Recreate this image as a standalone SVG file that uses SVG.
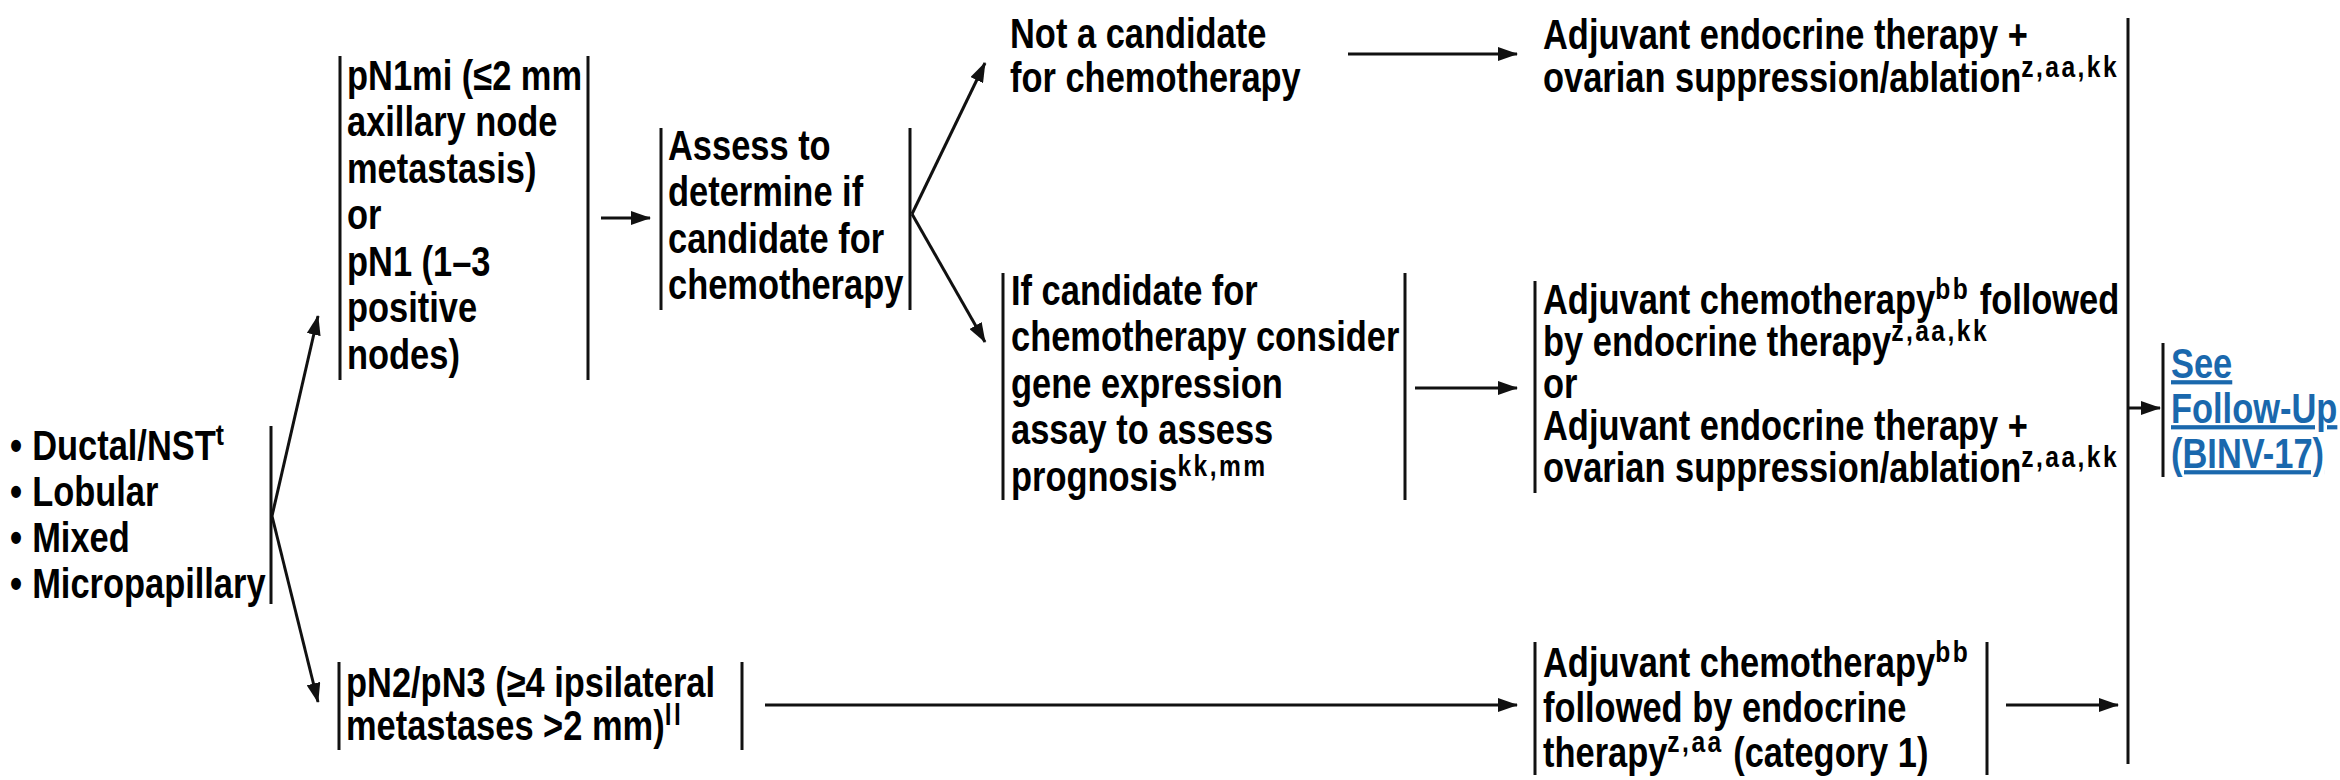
<svg xmlns="http://www.w3.org/2000/svg" width="2340" height="780" viewBox="0 0 2340 780">
  <style>
    text { font-family: "Liberation Sans Narrow", "Arial Narrow", "Liberation Sans", Arial, sans-serif; font-weight: bold; font-size: 42px; fill: #000; }
    .sup { font-size: 30px; letter-spacing: 3px; }
    .link { fill: #1a68ad; text-decoration: underline; }
    .bar { stroke: #111; stroke-width: 3; fill: none; }
    .conn { stroke: #111; stroke-width: 3; fill: none; marker-end: url(#arrow); }
  </style>
  <defs>
    <marker id="arrow" viewBox="0 0 20 14" refX="19" refY="7" markerWidth="20" markerHeight="14" markerUnits="userSpaceOnUse" orient="auto">
      <path d="M0,0 L20,7 L0,14 Z" fill="#111"/>
    </marker>
  </defs>
  <rect width="2340" height="780" fill="#fff"/>

  <!-- histology list; text blocks are condensed horizontally to a narrow face -->
  <g id="histology">
    <g transform="translate(10,0) scale(0.82,1)">
      <text x="0" y="460">•</text><text x="27" y="460">Ductal/NST<tspan class="sup" dy="-15">t</tspan></text>
      <text x="0" y="506">•</text><text x="27" y="506">Lobular</text>
      <text x="0" y="552">•</text><text x="27" y="552">Mixed</text>
      <text x="0" y="598">•</text><text x="27" y="598">Micropapillary</text>
    </g>
    <line class="bar" x1="271" y1="426" x2="271" y2="604"/>
  </g>

  <!-- pN1mi / pN1 -->
  <g id="pn1">
    <line class="bar" x1="340" y1="56" x2="340" y2="380"/>
    <line class="bar" x1="588" y1="56" x2="588" y2="380"/>
    <g transform="translate(347,0) scale(0.82,1)">
      <text x="0" y="90">pN1mi (≤2 mm</text>
      <text x="0" y="136.5">axillary node</text>
      <text x="0" y="183">metastasis)</text>
      <text x="0" y="229.5">or</text>
      <text x="0" y="276">pN1 (1–3</text>
      <text x="0" y="322.5">positive</text>
      <text x="0" y="369">nodes)</text>
    </g>
  </g>

  <!-- chemotherapy candidacy -->
  <g id="assess">
    <line class="bar" x1="661" y1="128" x2="661" y2="310"/>
    <line class="bar" x1="910" y1="128" x2="910" y2="310"/>
    <g transform="translate(668,0) scale(0.82,1)">
      <text x="0" y="160">Assess to</text>
      <text x="0" y="206.5">determine if</text>
      <text x="0" y="253">candidate for</text>
      <text x="0" y="299.5">chemotherapy</text>
    </g>
  </g>

  <g id="not-candidate">
    <g transform="translate(1010,0) scale(0.82,1)">
      <text x="0" y="48">Not a candidate</text>
      <text x="0" y="92">for chemotherapy</text>
    </g>
  </g>

  <g id="candidate">
    <line class="bar" x1="1003" y1="273" x2="1003" y2="500"/>
    <line class="bar" x1="1405" y1="273" x2="1405" y2="500"/>
    <g transform="translate(1011,0) scale(0.82,1)">
      <text x="0" y="305">If candidate for</text>
      <text x="0" y="351.5">chemotherapy consider</text>
      <text x="0" y="398">gene expression</text>
      <text x="0" y="444.5">assay to assess</text>
      <text x="0" y="491">prognosis<tspan class="sup" dy="-15">kk,mm</tspan></text>
    </g>
  </g>

  <!-- treatment options -->
  <g id="endocrine-ovarian">
    <g transform="translate(1543,0) scale(0.82,1)">
      <text x="0" y="49">Adjuvant endocrine therapy +</text>
      <text x="0" y="92">ovarian suppression/ablation<tspan class="sup" dy="-15">z,aa,kk</tspan></text>
    </g>
  </g>

  <g id="chemo-or-endocrine">
    <line class="bar" x1="1535" y1="281" x2="1535" y2="493"/>
    <g transform="translate(1543,0) scale(0.82,1)">
      <text x="0" y="314">Adjuvant chemotherapy<tspan class="sup" dy="-15">bb</tspan><tspan dy="15"> followed</tspan></text>
      <text x="0" y="356">by endocrine therapy<tspan class="sup" dy="-15">z,aa,kk</tspan></text>
      <text x="0" y="398">or</text>
      <text x="0" y="440">Adjuvant endocrine therapy +</text>
      <text x="0" y="482">ovarian suppression/ablation<tspan class="sup" dy="-15">z,aa,kk</tspan></text>
    </g>
  </g>

  <!-- pN2 / pN3 -->
  <g id="pn2">
    <line class="bar" x1="339" y1="662" x2="339" y2="750"/>
    <line class="bar" x1="742" y1="662" x2="742" y2="750"/>
    <g transform="translate(346,0) scale(0.82,1)">
      <text x="0" y="697">pN2/pN3 (≥4 ipsilateral</text>
      <text x="0" y="740">metastases &gt;2 mm)<tspan class="sup" dy="-15">ll</tspan></text>
    </g>
  </g>

  <g id="chemo-then-endocrine">
    <line class="bar" x1="1535" y1="642" x2="1535" y2="775"/>
    <line class="bar" x1="1987" y1="642" x2="1987" y2="775"/>
    <g transform="translate(1543,0) scale(0.82,1)">
      <text x="0" y="677">Adjuvant chemotherapy<tspan class="sup" dy="-15">bb</tspan></text>
      <text x="0" y="722">followed by endocrine</text>
      <text x="0" y="767">therapy<tspan class="sup" dy="-15">z,aa</tspan><tspan dy="15"> (category 1)</tspan></text>
    </g>
  </g>

  <!-- follow-up -->
  <g id="follow-up">
    <line class="bar" x1="2128" y1="18" x2="2128" y2="764"/>
    <line class="bar" x1="2163" y1="343" x2="2163" y2="477"/>
    <g transform="translate(2171,0) scale(0.82,1)">
      <text class="link" x="0" y="378">See </text>
      <text class="link" x="0" y="423">Follow-Up</text>
      <text class="link" x="0" y="468">(BINV-17)</text>
    </g>
  </g>

  <!-- connectors -->
  <g id="connectors">
    <polyline class="conn" points="272,516 318,316"/>
    <polyline class="conn" points="272,516 318,702"/>
    <line class="conn" x1="601" y1="218" x2="650" y2="218"/>
    <polyline class="conn" points="912,214 985,63"/>
    <polyline class="conn" points="912,214 985,342"/>
    <line class="conn" x1="1348" y1="54" x2="1517" y2="54"/>
    <line class="conn" x1="1415" y1="388" x2="1517" y2="388"/>
    <line class="conn" x1="765" y1="705" x2="1517" y2="705"/>
    <line class="conn" x1="2006" y1="705" x2="2118" y2="705"/>
    <line class="conn" x1="2128" y1="408" x2="2160" y2="408"/>
  </g>
</svg>
